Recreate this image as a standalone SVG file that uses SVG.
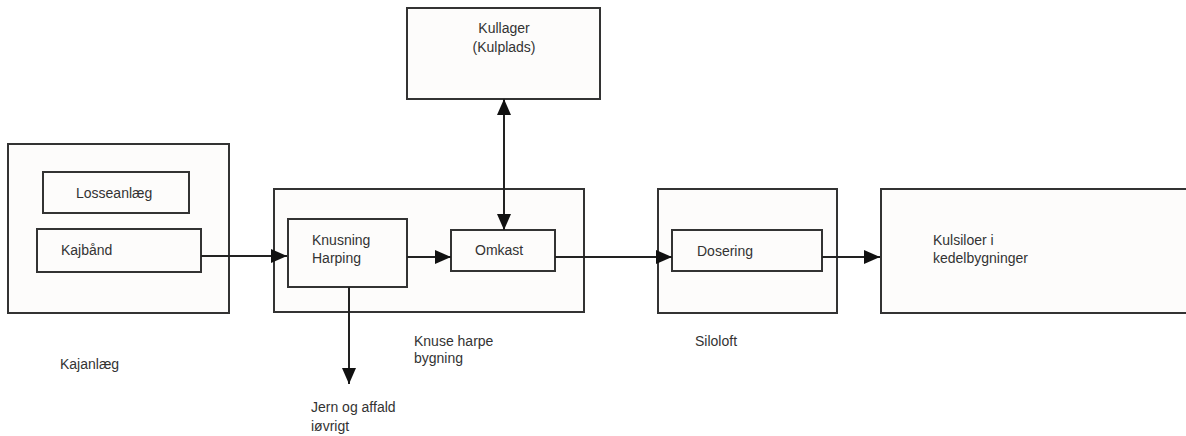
<svg xmlns="http://www.w3.org/2000/svg" width="1186" height="436" viewBox="0 0 1186 436">
  <defs>
    <style>
      .box { fill: #fdfcfb; stroke: #333; stroke-width: 2; }
      .line { fill: none; stroke: #222; stroke-width: 2; }
      .lbl { font-family: "Liberation Sans", Arial, sans-serif; font-size: 14px; fill: #333; }
      .mid { text-anchor: middle; }
    </style>
    <marker id="arrow" viewBox="0 0 16 14" refX="16" refY="7" markerWidth="16" markerHeight="14" markerUnits="userSpaceOnUse" orient="auto-start-reverse">
      <path d="M0,0 L16,7 L0,14 Z" fill="#111"/>
    </marker>
  </defs>
  <rect width="1186" height="436" fill="#ffffff"/>

  <!-- Kajanlæg -->
  <g id="kajanlaeg">
    <rect class="box" x="8" y="144" width="221" height="169"/>
    <text class="lbl" x="60" y="369">Kajanlæg</text>
  </g>
  <g id="losseanlaeg">
    <rect class="box" x="43" y="172" width="146" height="41"/>
    <text class="lbl" x="76" y="198">Losseanlæg</text>
  </g>
  <g id="kajbaand">
    <rect class="box" x="37" y="229" width="164" height="43"/>
    <text class="lbl" x="61" y="255">Kajbånd</text>
  </g>

  <!-- Knuse harpe bygning -->
  <g id="knuse-harpe-bygning">
    <rect class="box" x="274" y="189" width="310" height="123"/>
    <text class="lbl" x="414" y="346">Knuse harpe</text>
    <text class="lbl" x="414" y="363">bygning</text>
  </g>
  <g id="knusning">
    <rect class="box" x="288" y="219" width="119" height="68"/>
    <text class="lbl" x="312" y="245">Knusning</text>
    <text class="lbl" x="312" y="263">Harping</text>
  </g>
  <g id="omkast">
    <rect class="box" x="451" y="230" width="104" height="41"/>
    <text class="lbl" x="475" y="255">Omkast</text>
  </g>

  <!-- Kullager -->
  <g id="kullager">
    <rect class="box" x="407" y="8" width="193" height="91"/>
    <text class="lbl mid" x="504" y="33">Kullager</text>
    <text class="lbl mid" x="504" y="52">(Kulplads)</text>
  </g>

  <!-- Siloloft -->
  <g id="siloloft">
    <rect class="box" x="658" y="189" width="179" height="124"/>
    <text class="lbl" x="695" y="346">Siloloft</text>
  </g>
  <g id="dosering">
    <rect class="box" x="672" y="230" width="150" height="41"/>
    <text class="lbl" x="697" y="256">Dosering</text>
  </g>

  <!-- Kulsiloer -->
  <g id="kulsiloer">
    <rect class="box" x="881" y="189" width="320" height="124"/>
    <text class="lbl" x="933" y="245">Kulsiloer i</text>
    <text class="lbl" x="933" y="263">kedelbygninger</text>
  </g>

  <!-- Waste outlet label -->
  <g id="jern-affald">
    <text class="lbl" x="311" y="412">Jern og affald</text>
    <text class="lbl" x="311" y="431">iøvrigt</text>
  </g>

  <!-- Connectors -->
  <g id="connectors">
    <line class="line" x1="201" y1="256" x2="287" y2="256" marker-end="url(#arrow)"/>
    <line class="line" x1="407" y1="257" x2="451" y2="257" marker-end="url(#arrow)"/>
    <line class="line" x1="504" y1="99" x2="504" y2="230" marker-start="url(#arrow)" marker-end="url(#arrow)"/>
    <line class="line" x1="555" y1="257" x2="672" y2="257" marker-end="url(#arrow)"/>
    <line class="line" x1="822" y1="257" x2="880" y2="257" marker-end="url(#arrow)"/>
    <line class="line" x1="349" y1="287" x2="349" y2="384" marker-end="url(#arrow)"/>
  </g>
</svg>
